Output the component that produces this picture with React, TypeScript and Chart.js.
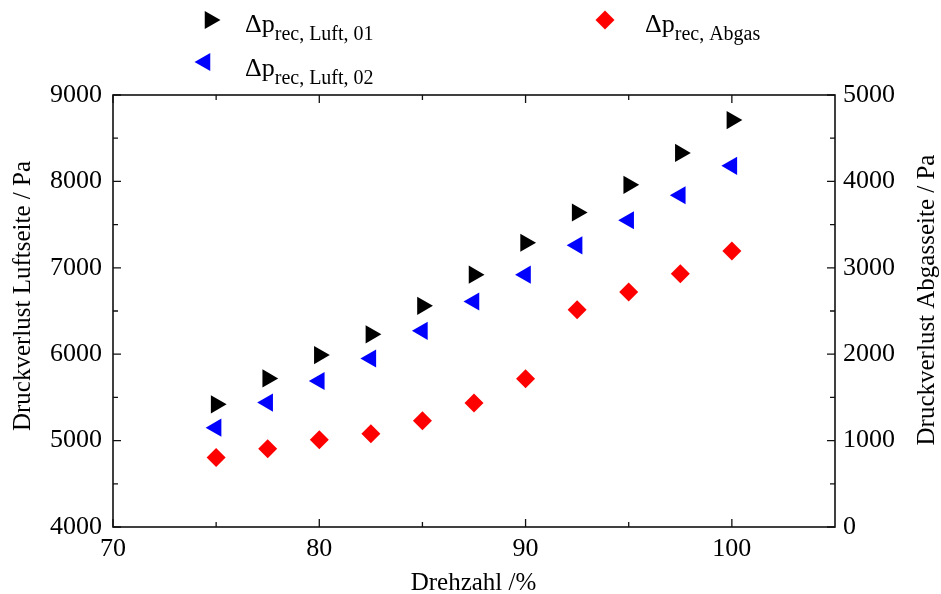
import React, { useEffect, useRef } from 'react';
import { Chart, registerables } from 'chart.js';

Chart.register(...registerables);

// ---- data ----
const drehzahl = [75, 77.5, 80, 82.5, 85, 87.5, 90, 92.5, 95, 97.5, 100];
const luft01 = [5420, 5720, 5990, 6230, 6560, 6920, 7290, 7640, 7960, 8330, 8710];
const luft02 = [5150, 5440, 5690, 5950, 6270, 6610, 6920, 7260, 7550, 7840, 8180];
const abgas = [805, 905, 1010, 1080, 1230, 1435, 1715, 2515, 2720, 2930, 3195];

const xTicks = [70, 80, 90, 100];
const xMinorTicks = [75, 85, 95];
const leftTicks = [4000, 5000, 6000, 7000, 8000, 9000];
const leftMinorTicks = [4500, 5500, 6500, 7500, 8500];
const rightTicks = [0, 1000, 2000, 3000, 4000, 5000];
const rightMinorTicks = [500, 1500, 2500, 3500, 4500];

const xTitle = 'Drehzahl /%';
const leftTitle = 'Druckverlust Luftseite / Pa';
const rightTitle = 'Druckverlust Abgasseite / Pa';

const legendItems = [
  { sub: 'rec, Luft, 01', color: '#000000', style: 'right' },
  { sub: 'rec, Luft, 02', color: '#0000ff', style: 'left' },
  { sub: 'rec, Abgas', color: '#ff0000', style: 'diamond' },
];

const FONT = '"Liberation Serif", "Times New Roman", serif';

function drawMarker(ctx: CanvasRenderingContext2D, style: string, x: number, y: number, r: number, color: string) {
  ctx.save();
  ctx.fillStyle = color;
  ctx.beginPath();
  if (style === 'diamond') {
    ctx.moveTo(x - r, y);
    ctx.lineTo(x, y - r);
    ctx.lineTo(x + r, y);
    ctx.lineTo(x, y + r);
  } else {
    const dir = style === 'right' ? 1 : -1;
    ctx.moveTo(x + dir * r, y);
    ctx.lineTo(x - dir * r / 2, y - (r * Math.sqrt(3)) / 2);
    ctx.lineTo(x - dir * r / 2, y + (r * Math.sqrt(3)) / 2);
  }
  ctx.closePath();
  ctx.fill();
  ctx.restore();
}

const framePlugin = {
  id: 'frameAndDecor',
  afterDraw(chart: any) {
    const ctx: CanvasRenderingContext2D = chart.ctx;
    const { left, right, top, bottom } = chart.chartArea;
    const xs = chart.scales.x;
    const yl = chart.scales.y;
    const yr = chart.scales.y2;
    ctx.save();
    ctx.strokeStyle = '#111';
    ctx.lineWidth = 1.6;
    ctx.strokeRect(left, top, right - left, bottom - top);
    ctx.lineWidth = 1.3;
    const major = 8;
    const minor = 5;
    ctx.beginPath();
    const xt = (v: number, len: number) => {
      const p = xs.getPixelForValue(v);
      ctx.moveTo(p, bottom); ctx.lineTo(p, bottom - len);
      ctx.moveTo(p, top); ctx.lineTo(p, top + len);
    };
    xTicks.forEach((v) => xt(v, major));
    xMinorTicks.forEach((v) => xt(v, minor));
    const ylt = (v: number, len: number) => {
      const p = yl.getPixelForValue(v);
      ctx.moveTo(left, p); ctx.lineTo(left + len, p);
    };
    leftTicks.forEach((v) => ylt(v, major));
    leftMinorTicks.forEach((v) => ylt(v, minor));
    const yrt = (v: number, len: number) => {
      const p = yr.getPixelForValue(v);
      ctx.moveTo(right, p); ctx.lineTo(right - len, p);
    };
    rightTicks.forEach((v) => yrt(v, major));
    rightMinorTicks.forEach((v) => yrt(v, minor));
    ctx.stroke();

    // axis titles
    ctx.fillStyle = '#000';
    ctx.font = `25px ${FONT}`;
    ctx.textAlign = 'center';
    ctx.textBaseline = 'alphabetic';
    ctx.fillText(xTitle, 473.5, 590);
    ctx.textBaseline = 'middle';
    ctx.save();
    ctx.translate(23, 296);
    ctx.rotate(-Math.PI / 2);
    ctx.fillText(leftTitle, 0, 0);
    ctx.restore();
    ctx.save();
    ctx.translate(927, 300);
    ctx.rotate(-Math.PI / 2);
    ctx.fillText(rightTitle, 0, 0);
    ctx.restore();

    // legend
    const pos = [
      { mx: 210, my: 20, tx: 245, ty: 32 },
      { mx: 205, my: 62, tx: 245, ty: 76 },
      { mx: 605, my: 20, tx: 645, ty: 32 },
    ];
    legendItems.forEach((it, i) => {
      const p = pos[i];
      drawMarker(ctx, it.style, p.mx, p.my, it.style === 'diamond' ? 9.5 : 10.5, it.color);
      ctx.fillStyle = '#000';
      ctx.textAlign = 'left';
      ctx.textBaseline = 'alphabetic';
      ctx.font = `26px ${FONT}`;
      const main = '\u0394p';
      ctx.fillText(main, p.tx, p.ty);
      const w = ctx.measureText(main).width;
      ctx.font = `20px ${FONT}`;
      ctx.fillText(it.sub, p.tx + w, p.ty + 7.5);
    });
    ctx.restore();
  },
};

export default function App() {
  const ref = useRef<HTMLCanvasElement | null>(null);
  useEffect(() => {
    if (!ref.current) return;
    const tickFont = { family: FONT, size: 26 };
    const fmt = (v: any) => String(v);
    const chart = new Chart(ref.current, {
      type: 'scatter',
      data: {
        datasets: [
          {
            label: 'luft01',
            data: drehzahl.map((x, i) => ({ x, y: luft01[i] })),
            yAxisID: 'y',
            pointStyle: 'triangle',
            rotation: 90,
            pointRadius: 10.5,
            borderWidth: 0,
            backgroundColor: '#000000',
            borderColor: '#000000',
          },
          {
            label: 'luft02',
            data: drehzahl.map((x, i) => ({ x, y: luft02[i] })),
            yAxisID: 'y',
            pointStyle: 'triangle',
            rotation: -90,
            pointRadius: 10.5,
            borderWidth: 0,
            backgroundColor: '#0000ff',
            borderColor: '#0000ff',
          },
          {
            label: 'abgas',
            data: drehzahl.map((x, i) => ({ x, y: abgas[i] })),
            yAxisID: 'y2',
            pointStyle: 'rectRot',
            pointRadius: 9.5,
            borderWidth: 0,
            backgroundColor: '#ff0000',
            borderColor: '#ff0000',
          },
        ],
      },
      options: {
        responsive: false,
        animation: false,
        events: [],
        layout: { padding: { top: 95, left: 0, right: 0, bottom: 0 } },
        plugins: { legend: { display: false }, tooltip: { enabled: false } },
        scales: {
          x: {
            type: 'linear',
            position: 'bottom',
            min: 70,
            max: 105,
            grid: { display: false, drawTicks: false },
            border: { display: false },
            ticks: { stepSize: 10, font: tickFont, color: '#000', padding: 7, maxRotation: 0, callback: fmt },
            afterBuildTicks: (s: any) => {
              s.ticks = xTicks.map((v) => ({ value: v }));
            },
            afterFit: (s: any) => {
              s.height = 67;
            },
          },
          y: {
            type: 'linear',
            position: 'left',
            min: 4000,
            max: 9000,
            grid: { display: false, drawTicks: false },
            border: { display: false },
            ticks: { stepSize: 1000, font: tickFont, color: '#000', padding: 11, callback: fmt },
            afterBuildTicks: (s: any) => {
              s.ticks = leftTicks.map((v) => ({ value: v }));
            },
            afterFit: (s: any) => {
              s.width = 113;
            },
          },
          y2: {
            type: 'linear',
            position: 'right',
            min: 0,
            max: 5000,
            grid: { display: false, drawTicks: false },
            border: { display: false },
            ticks: { stepSize: 1000, font: tickFont, color: '#000', padding: 8, callback: fmt },
            afterBuildTicks: (s: any) => {
              s.ticks = rightTicks.map((v) => ({ value: v }));
            },
            afterFit: (s: any) => {
              s.width = 106;
            },
          },
        },
      },
      plugins: [framePlugin],
    } as any);
    return () => chart.destroy();
  }, []);
  return (
    <div style={{ position: 'fixed', left: 0, top: 0, width: 941, height: 594, background: '#fff' }}>
      <canvas ref={ref} width={941} height={594} style={{ display: 'block', width: 941, height: 594 }} />
    </div>
  );
}
